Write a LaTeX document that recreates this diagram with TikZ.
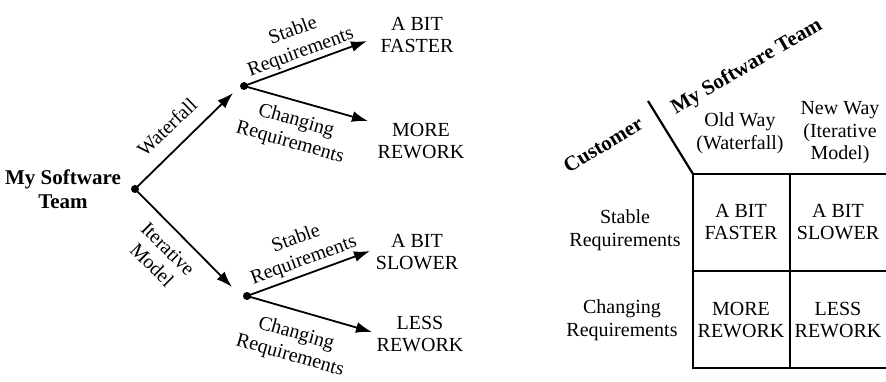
\documentclass[tikz,border=0pt]{standalone}
\usepackage{fontspec}
\setmainfont{Liberation Serif}
\usetikzlibrary{arrows.meta}
\tikzset{
  txt/.style={align=center,inner sep=1pt,font=\fontsize{20}{22.5}\selectfont},
  btxt/.style={txt,font=\fontsize{21}{24}\selectfont\bfseries},
  dot/.style={circle,fill,inner sep=0pt,minimum size=8pt},
  branch/.style={line width=1.8pt,-{Latex[length=16pt,width=11pt]}},
  gridline/.style={line width=2.2pt}
}
\begin{document}
\begin{tikzpicture}[x=1pt,y=-1pt]
      \useasboundingbox (0,0) rectangle (886,381);
      % decision tree
      \draw
        (63,189) node[btxt] (team){My Software\\Team}
        (135,189) node[dot] (root){}
        (244,86) node[dot] (wf){}
        (247,296) node[dot] (it){}
        (417,35) node[txt] (faster){A BIT\\FASTER}
        (421,141) node[txt] (more){MORE\\REWORK}
        (417,252) node[txt] (slower){A BIT\\SLOWER}
        (420,334) node[txt] (less){LESS\\REWORK};
      \coordinate (wfend) at (233,93);
      \coordinate (itend) at (232,287);
      \coordinate (fasterend) at (367,41);
      \coordinate (moreend) at (368,121);
      \coordinate (slowerend) at (370,251);
      \coordinate (lessend) at (372,332);
      \begin{scope}[branch]
        \draw (root.center) to (wfend);
        \draw (root.center) to (itend);
        \draw (wf.center) to (fasterend);
        \draw (wf.center) to (moreend);
        \draw (it.center) to (slowerend);
        \draw (it.center) to (lessend);
      \end{scope}
      \node[txt,rotate=44] (wflbl) at (167,127) {Waterfall};
      \node[txt,rotate=-45] (itlbl) at (160,257) {Iterative\\Model};
      \node[txt,rotate=20] (wfstable) at (297,42) {Stable\\Requirements};
      \node[txt,rotate=-16] (wfchange) at (293,132) {Changing\\Requirements};
      \node[txt,rotate=20] (itstable) at (300,250) {Stable\\Requirements};
      \node[txt,rotate=-16] (itchange) at (293,345) {Changing\\Requirements};
      % payoff table
      \coordinate (tl) at (693,174);
      \coordinate (tm) at (790,174);
      \coordinate (tr) at (887,174);
      \coordinate (ml) at (693,271);
      \coordinate (mm) at (790,271);
      \coordinate (mr) at (887,271);
      \coordinate (bl) at (693,368);
      \coordinate (bm) at (790,368);
      \coordinate (br) at (887,368);
      \coordinate (slash) at (648,101);
      \begin{scope}[gridline]
        \draw (tr) -- (tl) -- (bl) -- (br);
        \draw (ml) -- (mr);
        \draw (tm) -- (bm);
        \draw (slash) -- (tl);
      \end{scope}
      \node[btxt,rotate=31] (cust) at (603,145) {Customer};
      \node[btxt,rotate=30] (myteam) at (747,67) {My Software Team};
      \node[txt] (oldway) at (740,133) {Old Way\\(Waterfall)};
      \node[txt] (newway) at (840,133) {New Way\\(Iterative\\Model)};
      \node[txt] (stable) at (625,230) {Stable\\Requirements};
      \node[txt] (change) at (622,320) {Changing\\Requirements};
      \node[txt] (c11) at (741,222) {A BIT\\FASTER};
      \node[txt] (c12) at (838,222) {A BIT\\SLOWER};
      \node[txt] (c21) at (741,320) {MORE\\REWORK};
      \node[txt] (c22) at (838,320) {LESS\\REWORK};
    \end{tikzpicture}
\end{document}
